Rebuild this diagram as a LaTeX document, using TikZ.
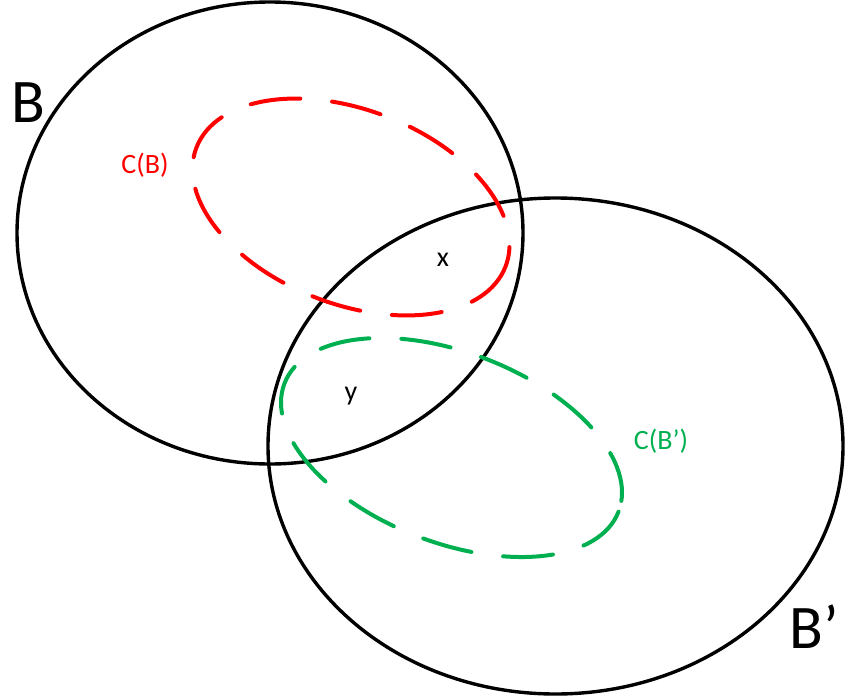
\documentclass[tikz,border=0pt]{standalone}
\usepackage{fontspec}
\setmainfont{Carlito}
\definecolor{setgreen}{RGB}{0,176,80}
\begin{document}
\begin{tikzpicture}[x=1pt, y=-1pt,
    setline/.style={line width=3.4pt},
    coreline/.style={line width=4pt, line cap=round, dash pattern=on 50pt off 32pt},
    biglabel/.style={font=\fontsize{62}{62}\selectfont},
    smalllabel/.style={font=\fontsize{28}{28}\selectfont}]
    \useasboundingbox (0,0) rectangle (845,696);
    % the two sets
    \draw[setline] (270,233) ellipse [x radius=253, y radius=231];
    \draw[setline] (555.5,446) ellipse [x radius=287.5, y radius=248];
    % their cores, tilted down to the right by about 21 degrees
    \draw[coreline, red] (351,207) ellipse [x radius=165.6, y radius=97.2, rotate=-21];
    \draw[coreline, setgreen] (451.5,447.5) ellipse [x radius=178.9, y radius=95.1, rotate=-21];
    \node[biglabel] (labB) at (28,103) {B};
    \node[biglabel] (labBp) at (814,627) {B’};
    \node[smalllabel, red] (labCB) at (145,165) {C(B)};
    \node[smalllabel, setgreen] (labCBp) at (661,441) {C(B’)};
    \node[smalllabel] (ptx) at (443,260) {x};
    \node[smalllabel] (pty) at (351,396) {y};
\end{tikzpicture}
\end{document}
